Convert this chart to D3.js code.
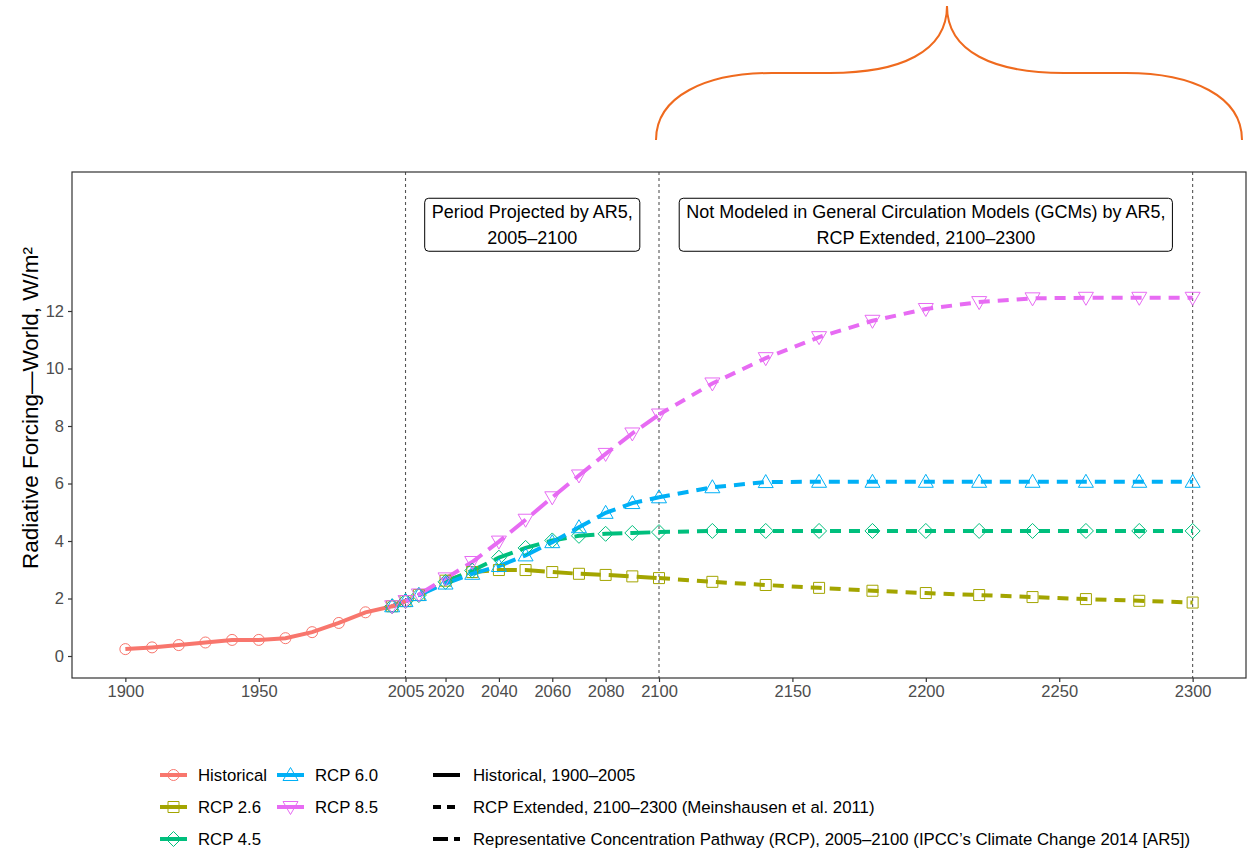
<!DOCTYPE html>
<html>
<head>
<meta charset="utf-8">
<script src="https://cdn.jsdelivr.net/npm/d3@7"></script>
<style>
  html, body { margin: 0; padding: 0; background: #fff; }
  svg { display: block; font-family: "Liberation Sans", Arial, sans-serif; }
</style>
</head>
<body>
<svg id="chart" width="1256" height="849"></svg>
<script>
// ---- data: radiative forcing, W/m² ----
const histYears  = [1900, 1910, 1920, 1930, 1940, 1950, 1960, 1970, 1980, 1990, 2000, 2005];
const histValues = [0.24, 0.30, 0.38, 0.47, 0.56, 0.56, 0.62, 0.83, 1.15, 1.52, 1.73, 1.91];

// AR5 projection period (2000–2100)
const rcpYears = [2000, 2005, 2010, 2020, 2030, 2040, 2050, 2060, 2070, 2080, 2090, 2100];
const rcp26 = [1.73, 1.91, 2.12, 2.62, 2.92, 2.99, 2.99, 2.92, 2.86, 2.82, 2.77, 2.71];
const rcp45 = [1.73, 1.91, 2.12, 2.58, 2.97, 3.42, 3.76, 4.02, 4.18, 4.25, 4.28, 4.31];
const rcp60 = [1.73, 1.91, 2.12, 2.52, 2.86, 3.13, 3.50, 3.96, 4.48, 4.98, 5.32, 5.52];
const rcp85 = [1.73, 1.91, 2.14, 2.70, 3.27, 3.98, 4.74, 5.52, 6.28, 7.03, 7.74, 8.40];

// Extended concentration pathways (2100–2300)
const extYears = [2100, 2120, 2140, 2160, 2180, 2200, 2220, 2240, 2260, 2280, 2300];
const ext26 = [2.71, 2.58, 2.47, 2.37, 2.27, 2.19, 2.12, 2.05, 1.98, 1.92, 1.86];
const ext45 = [4.31, 4.35, 4.35, 4.35, 4.35, 4.35, 4.35, 4.35, 4.35, 4.35, 4.35];
const ext60 = [5.52, 5.87, 6.05, 6.06, 6.06, 6.06, 6.06, 6.06, 6.06, 6.06, 6.06];
const ext85 = [8.40, 9.48, 10.36, 11.09, 11.66, 12.07, 12.31, 12.44, 12.46, 12.46, 12.46];

const xTicks = [1900, 1950, 2005, 2020, 2040, 2060, 2080, 2100, 2150, 2200, 2250, 2300];
const yTicks = [0, 2, 4, 6, 8, 10, 12];
const periodLines = [2005, 2100, 2300];

const seriesNames = ["Historical", "RCP 2.6", "RCP 4.5", "RCP 6.0", "RCP 8.5"];
const seriesColors = ["#F8766D", "#A3A500", "#00BF7D", "#00B0F6", "#E76BF3"];
const seriesShapes = ["circle", "square", "diamond", "triUp", "triDown"];

const periodLabels = [
  { x: 2052.5, y: 15, lines: ["Period Projected by AR5,", "2005–2100"] },
  { x: 2200,   y: 15, lines: ["Not Modeled in General Circulation Models (GCMs) by AR5,", "RCP Extended, 2100–2300"] }
];

const linetypeNames = [
  "Historical, 1900–2005",
  "RCP Extended, 2100–2300 (Meinshausen et al. 2011)",
  "Representative Concentration Pathway (RCP), 2005–2100 (IPCC’s Climate Change 2014 [AR5])"
];
const linetypeDash = [null, "11,8", "20,8"];

// ---- layout ----
const svg = d3.select("#chart");
const panel = { left: 72, right: 1246, top: 172, bottom: 678 };

const x = d3.scaleLinear().domain([1880, 2320]).range([panel.left, panel.right]);
const y = d3.scaleLinear().domain([-0.765, 16.835]).range([panel.bottom, panel.top]);
const color = d3.scaleOrdinal().domain(seriesNames).range(seriesColors);
const shapeOf = d3.scaleOrdinal().domain(seriesNames).range(seriesShapes);

// marker drawing
function markerPath(shape, cx, cy) {
  const p = d3.path();
  if (shape === "circle") {
    p.moveTo(cx + 5.5, cy); p.arc(cx, cy, 5.5, 0, 2 * Math.PI);
  } else if (shape === "square") {
    p.rect(cx - 5.5, cy - 5.5, 11, 11);
  } else if (shape === "diamond") {
    p.moveTo(cx, cy - 7.5); p.lineTo(cx + 7.5, cy); p.lineTo(cx, cy + 7.5); p.lineTo(cx - 7.5, cy); p.closePath();
  } else if (shape === "triUp") {
    p.moveTo(cx, cy - 7.5); p.lineTo(cx + 7.5, cy + 5.5); p.lineTo(cx - 7.5, cy + 5.5); p.closePath();
  } else {
    p.moveTo(cx, cy + 7.5); p.lineTo(cx + 7.5, cy - 5.5); p.lineTo(cx - 7.5, cy - 5.5); p.closePath();
  }
  return p.toString();
}

// ---- orange brace spanning the extended period ----
const brace = d3.path();
brace.moveTo(656, 140);
brace.bezierCurveTo(656, 96, 706, 73, 772, 73);
brace.lineTo(830, 73);
brace.bezierCurveTo(900, 73, 947, 52, 947, 6);
brace.bezierCurveTo(947, 52, 994, 73, 1064, 73);
brace.lineTo(1126, 73);
brace.bezierCurveTo(1192, 73, 1242, 96, 1242, 140);
svg.append("path").attr("d", brace.toString())
  .attr("fill", "none").attr("stroke", "#EF6A1E").attr("stroke-width", 2);

// ---- panel ----
svg.append("rect")
  .attr("x", panel.left).attr("y", panel.top)
  .attr("width", panel.right - panel.left).attr("height", panel.bottom - panel.top)
  .attr("fill", "#fff");

// period boundary lines
svg.append("g").selectAll("line").data(periodLines).join("line")
  .attr("x1", d => x(d)).attr("x2", d => x(d))
  .attr("y1", panel.top).attr("y2", panel.bottom)
  .attr("stroke", "#555").attr("stroke-width", 1.1).attr("stroke-dasharray", "3,3");

// period labels
const lbl = svg.append("g").selectAll("g").data(periodLabels).join("g")
  .attr("transform", d => `translate(${x(d.x)},${y(d.y)})`);
lbl.each(function (d) {
  const g = d3.select(this);
  const t = g.append("text").attr("text-anchor", "middle").attr("font-size", 18).attr("fill", "#000");
  d.lines.forEach((s, i) => t.append("tspan").attr("x", 0).attr("y", (i - 0.5) * 26 + 6.5).text(s));
  const bb = t.node().getBBox();
  g.insert("rect", "text")
    .attr("x", bb.x - 7).attr("y", -26.5).attr("width", bb.width + 14).attr("height", 53)
    .attr("rx", 4).attr("fill", "#fff").attr("stroke", "#000").attr("stroke-width", 1);
});

// ---- lines ----
const line = d3.line().x(d => x(d[0])).y(d => y(d[1]));
const gLines = svg.append("g").attr("fill", "none").attr("stroke-width", 4);

const rcpSets = [
  { name: "RCP 2.6", proj: rcp26, ext: ext26 },
  { name: "RCP 4.5", proj: rcp45, ext: ext45 },
  { name: "RCP 6.0", proj: rcp60, ext: ext60 },
  { name: "RCP 8.5", proj: rcp85, ext: ext85 }
];

rcpSets.forEach(s => {
  gLines.append("path").datum(d3.zip(extYears, s.ext)).attr("d", line)
    .attr("stroke", color(s.name)).attr("stroke-dasharray", linetypeDash[1]);
});
rcpSets.forEach(s => {
  gLines.append("path").datum(d3.zip(rcpYears, s.proj)).attr("d", line)
    .attr("stroke", color(s.name)).attr("stroke-dasharray", linetypeDash[2]);
});
gLines.append("path").datum(d3.zip(histYears, histValues)).attr("d", line)
  .attr("stroke", color("Historical"));

// ---- markers ----
const pts = [];
d3.zip(histYears, histValues).forEach(p => pts.push({ s: "Historical", x: p[0], v: p[1] }));
rcpSets.forEach(s => {
  d3.zip(rcpYears, s.proj).forEach(p => pts.push({ s: s.name, x: p[0], v: p[1] }));
  d3.zip(extYears.slice(1), s.ext.slice(1)).forEach(p => pts.push({ s: s.name, x: p[0], v: p[1] }));
});
svg.append("g").selectAll("path").data(pts).join("path")
  .attr("d", d => markerPath(shapeOf(d.s), x(d.x), y(d.v)))
  .attr("fill", "none").attr("stroke", d => color(d.s)).attr("stroke-width", 1);

// ---- panel border ----
svg.append("rect")
  .attr("x", panel.left).attr("y", panel.top)
  .attr("width", panel.right - panel.left).attr("height", panel.bottom - panel.top)
  .attr("fill", "none").attr("stroke", "#333").attr("stroke-width", 1.2);

// ---- axes ----
const xAxis = svg.append("g").attr("transform", `translate(0,${panel.bottom})`)
  .call(d3.axisBottom(x).tickValues(xTicks).tickFormat(d3.format("d")).tickSize(4).tickPadding(3));
const yAxis = svg.append("g").attr("transform", `translate(${panel.left},0)`)
  .call(d3.axisLeft(y).tickValues(yTicks).tickSize(4).tickPadding(4));
[xAxis, yAxis].forEach(a => {
  a.select(".domain").remove();
  a.selectAll(".tick line").attr("stroke", "#333").attr("stroke-width", 1.2);
  a.selectAll(".tick text").attr("fill", "#4D4D4D").attr("font-size", 16.5)
    .attr("font-family", "Liberation Sans, Arial, sans-serif");
});

svg.append("text")
  .attr("transform", `translate(38,408) rotate(-90)`)
  .attr("text-anchor", "middle").attr("font-size", 22.5).attr("fill", "#000")
  .text("Radiative Forcing—World, W/m²");

// ---- colour legend ----
const legRowY = [775, 807, 839];
const colLegend = svg.append("g");
seriesNames.forEach((n, i) => {
  const col = Math.floor(i / 3), row = i % 3;
  const kx = col === 0 ? 160 : 277;
  const ty = legRowY[row];
  colLegend.append("line").attr("x1", kx).attr("x2", kx + 27).attr("y1", ty).attr("y2", ty)
    .attr("stroke", color(n)).attr("stroke-width", 4);
  colLegend.append("path").attr("d", markerPath(shapeOf(n), kx + 13.5, ty))
    .attr("fill", "none").attr("stroke", color(n)).attr("stroke-width", 1);
  colLegend.append("text").attr("x", kx + 38).attr("y", ty + 6)
    .attr("font-size", 16.8).attr("fill", "#000").text(n);
});

// ---- linetype legend ----
const ltLegend = svg.append("g");
linetypeNames.forEach((n, i) => {
  const ty = legRowY[i];
  ltLegend.append("line").attr("x1", 433).attr("x2", 460).attr("y1", ty).attr("y2", ty)
    .attr("stroke", "#000").attr("stroke-width", 4)
    .attr("stroke-dasharray", i === 0 ? null : (i === 1 ? "8,6" : "15,6"));
  ltLegend.append("text").attr("x", 473).attr("y", ty + 6)
    .attr("font-size", 16.8).attr("fill", "#000").text(n);
});
</script>
</body>
</html>
